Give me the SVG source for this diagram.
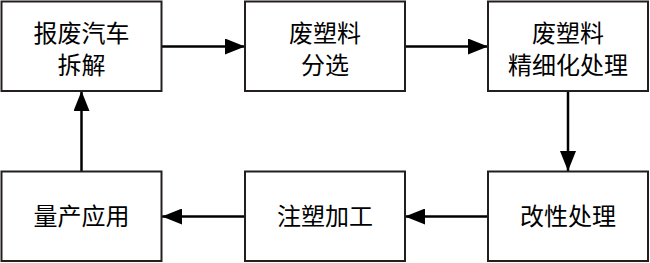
<svg xmlns="http://www.w3.org/2000/svg" width="650" height="263" viewBox="0 0 650 263">
<style>
.box{fill:#fff;stroke:#231f20;stroke-width:2}
.t{font-family:"Noto Sans CJK SC","Noto Sans",sans-serif;font-size:24px;fill:#000;text-anchor:middle}
.c{stroke:#000;stroke-width:2.5;fill:none;marker-end:url(#ah)}
</style>
<defs>
<marker id="ah" markerWidth="20" markerHeight="16" refX="20" refY="8" orient="auto" markerUnits="userSpaceOnUse">
<path d="M0,0 L20,8 L0,16 Z" fill="#000"/>
</marker>
</defs>
<rect width="650" height="263" fill="#fff"/>
<g id="connectors">
<line class="c" x1="162" y1="46.5" x2="245" y2="46.5"/>
<line class="c" x1="405" y1="46.5" x2="488" y2="46.5"/>
<line class="c" x1="568" y1="91" x2="568" y2="171"/>
<line class="c" x1="488" y1="216.5" x2="405" y2="216.5"/>
<line class="c" x1="245" y1="216.5" x2="162" y2="216.5"/>
<line class="c" x1="81.5" y1="171" x2="81.5" y2="91"/>
</g>
<g id="n1"><rect class="box" x="1.5" y="1.5" width="160" height="89.5"/><text class="t" x="81.5" y="42">报废汽车</text><text class="t" x="81.5" y="74">拆解</text></g>
<g id="n2"><rect class="box" x="245" y="1.5" width="160" height="89.5"/><text class="t" x="325" y="42">废塑料</text><text class="t" x="325" y="74">分选</text></g>
<g id="n3"><rect class="box" x="488" y="1.5" width="160" height="89.5"/><text class="t" x="568" y="42">废塑料</text><text class="t" x="568" y="74">精细化处理</text></g>
<g id="n4"><rect class="box" x="488" y="171.5" width="160" height="89.5"/><text class="t" x="568" y="225">改性处理</text></g>
<g id="n5"><rect class="box" x="245" y="171.5" width="160" height="89.5"/><text class="t" x="325" y="225">注塑加工</text></g>
<g id="n6"><rect class="box" x="1.5" y="171.5" width="160" height="89.5"/><text class="t" x="81.5" y="225">量产应用</text></g>
</svg>
